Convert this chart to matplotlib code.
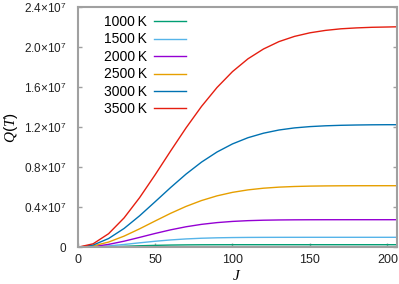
import matplotlib
matplotlib.use('Agg')
import matplotlib.pyplot as plt

plt.rcParams['font.family'] = ['Liberation Sans', 'DejaVu Sans']
plt.rcParams['mathtext.fontset'] = 'custom'
plt.rcParams['mathtext.rm'] = 'Liberation Sans'
plt.rcParams['mathtext.it'] = 'Liberation Serif:italic'

# Values (Q in units of 1e7)
J = [0, 10, 20, 30, 40, 50, 60, 70, 80, 90, 100, 110, 120, 130, 140, 150,
     160, 170, 180, 190, 200, 206]
q_1000 = [0, 0.0014, 0.0052, 0.0102, 0.0153, 0.0195, 0.0225, 0.0243, 0.0253, 0.0257,
          0.0259, 0.026, 0.026, 0.026, 0.026, 0.026, 0.026, 0.026, 0.026, 0.026, 0.026, 0.026]
q_1500 = [0, 0.0036, 0.0138, 0.0284, 0.0448, 0.0604, 0.0737, 0.0838, 0.0907, 0.0950,
          0.0975, 0.0989, 0.0995, 0.0998, 0.0999, 0.1, 0.1, 0.1, 0.1, 0.1, 0.1, 0.1]
q_2000 = [0, 0.0076, 0.0291, 0.0611, 0.0992, 0.1383, 0.1746, 0.2054, 0.2295, 0.2470,
          0.2589, 0.2665, 0.2710, 0.2735, 0.2748, 0.2755, 0.2758, 0.2759, 0.276, 0.276,
          0.276, 0.276]
q_2500 = [0, 0.0136, 0.0525, 0.1118, 0.1846, 0.2628, 0.3395, 0.409, 0.4677, 0.5145,
          0.5495, 0.5743, 0.591, 0.6017, 0.6081, 0.6119, 0.6139, 0.6151, 0.6157, 0.6159,
          0.616, 0.616]
q_3000 = [0, 0.0225, 0.0877, 0.1884, 0.3148, 0.455, 0.597, 0.732, 0.852, 0.953,
          1.034, 1.096, 1.141, 1.173, 1.194, 1.207, 1.215, 1.220, 1.223, 1.225,
          1.226, 1.226]
q_3500 = [0, 0.0349, 0.136, 0.294, 0.496, 0.724, 0.962, 1.194, 1.409, 1.598,
          1.757, 1.885, 1.983, 2.057, 2.109, 2.145, 2.169, 2.185, 2.194, 2.200,
          2.203, 2.205]

series = [('1000\u2009K', q_1000, '#009e73'),
          ('1500\u2009K', q_1500, '#56b4e9'),
          ('2000\u2009K', q_2000, '#9400d3'),
          ('2500\u2009K', q_2500, '#e69f00'),
          ('3000\u2009K', q_3000, '#0072b2'),
          ('3500\u2009K', q_3500, '#e51e10')]

y_ticks = [0, 0.4, 0.8, 1.2, 1.6, 2.0, 2.4]
y_tick_labels = ['0'] + ['%.1f\u00d710$^{7}$' % v for v in y_ticks[1:]]
x_ticks = [0, 50, 100, 150, 200]

fig = plt.figure(figsize=(3.99, 2.84), dpi=100)
ax = fig.add_axes([0.1945, 0.1292, 0.7997, 0.8451])

for label, q, c in series:
    ax.plot(J, [v * 1e7 for v in q], color=c, lw=1.0, label=label)

ax.set_xlim(0, 206)
ax.set_ylim(0, 2.4e7)
ax.set_xticks(x_ticks)
ax.set_yticks([v * 1e7 for v in y_ticks])
ax.set_yticklabels(y_tick_labels)

for s in ax.spines.values():
    s.set_color('#a0a0a0')
    s.set_linewidth(1.5)
ax.tick_params(direction='in', length=3, width=1, color='#a0a0a0',
               labelcolor='#222222', top=False, right=True)
ax.tick_params(axis='y', pad=8, labelsize=8.5)
ax.tick_params(axis='x', pad=5, labelsize=9)

ax.set_xlabel('$\\mathit{J}$', fontsize=11, labelpad=2)
ax.set_ylabel('$\\mathit{Q(T)}$', fontsize=11)
ax.yaxis.set_label_coords(-0.18, 0.5)

ax.legend(loc='upper left', bbox_to_anchor=(0.083, 0.968), frameon=False,
          markerfirst=False, fontsize=10, handlelength=2.3, handletextpad=0.5,
          labelspacing=0.25, borderpad=0, borderaxespad=0)

fig.savefig('out.png', dpi=100)
